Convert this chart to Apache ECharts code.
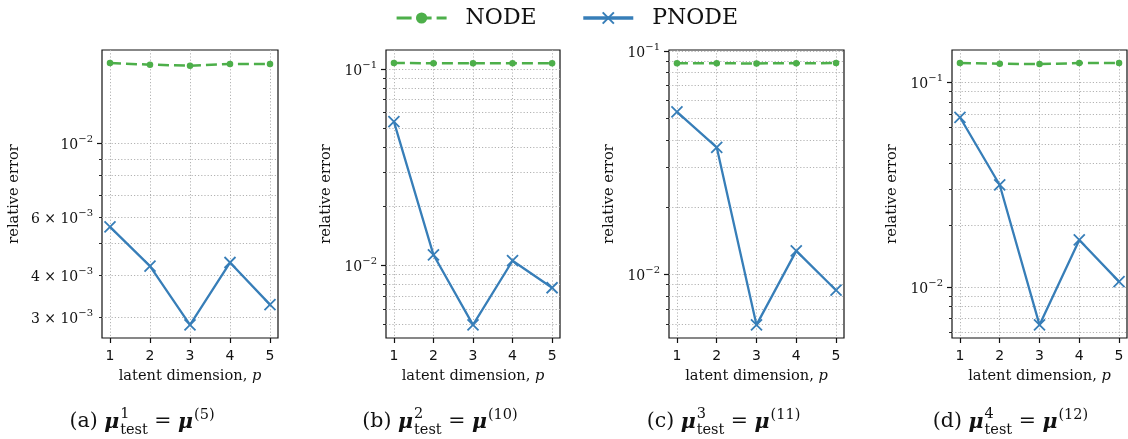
<!DOCTYPE html>
<html><head><meta charset="utf-8">
<script src="https://cdn.jsdelivr.net/npm/echarts@6/dist/echarts.min.js"></script>
<style>html,body{margin:0;padding:0;background:#fff;}#c{width:1128px;height:439px;}</style>
</head><body><div id="c"></div>
<script>
// ---------------- data ----------------
const latentDims = [1, 2, 3, 4, 5];
const nodeA  = [0.01749, 0.01730, 0.01718, 0.01738, 0.01738];
const pnodeA = [0.00561, 0.00427, 0.00284, 0.00438, 0.00327];
const nodeB  = [0.1073, 0.1072, 0.1072, 0.1072, 0.1072];
const pnodeB = [0.0540, 0.01133, 0.00498, 0.01057, 0.00770];
const nodeC  = [0.0881, 0.0880, 0.0879, 0.0881, 0.0882];
const pnodeC = [0.0533, 0.0370, 0.00593, 0.01272, 0.00848];
const nodeD  = [0.1242, 0.1233, 0.1229, 0.1242, 0.1242];
const pnodeD = [0.0675, 0.0315, 0.00652, 0.01697, 0.01061];
const seriesNames = ['NODE', 'PNODE'];
const xTickValues = [1, 2, 3, 4, 5];
const yMajorTicks = [[0.01], [0.1, 0.01], [0.1, 0.01], [0.1, 0.01]];
const yLabeledTicks = [[0.01, 0.006, 0.004, 0.003], [0.1, 0.01], [0.1, 0.01], [0.1, 0.01]];
const panelLetters = ['a', 'b', 'c', 'd'];
const testIndices = ['1', '2', '3', '4'];
const muIndices = ['5', '10', '11', '12'];
const xAxisTitle = 'latent dimension, ';
const xAxisTitleVar = 'p';
const yAxisTitle = 'relative error';

// ---------------- layout / style ----------------
const GREEN = '#4daf4a', BLUE = '#377eb8';
const SERIF = '"DejaVu Serif", serif';
const SANS = '"DejaVu Sans", sans-serif';
const gridLefts = [102, 386, 669, 952];
const gridWidths = [176, 174, 175, 175];
const gridTop = 50, gridHeight = 288;
const yNameGaps = [80, 52, 52, 52];
const captionCenters = [142, 440, 723.5, 1010.5];

const nodes = [nodeA, nodeB, nodeC, nodeD];
const pnodes = [pnodeA, pnodeB, pnodeC, pnodeD];

function logLimits(arrs) {
  const all = [].concat(...arrs);
  const lo = Math.log10(Math.min(...all)), hi = Math.log10(Math.max(...all));
  const m = 0.05 * (hi - lo);
  return [Math.pow(10, lo - m), Math.pow(10, hi + m)];
}
function minorTicks(lim) {
  const out = [];
  for (let e = Math.floor(Math.log10(lim[0])); e <= Math.ceil(Math.log10(lim[1])); e++) {
    for (let k = 2; k <= 9; k++) {
      const v = k * Math.pow(10, e);
      if (v >= lim[0] && v <= lim[1]) out.push(+v.toPrecision(6));
    }
  }
  return out;
}
function sciLabel(v) {
  const e = Math.floor(Math.log10(v) + 1e-9);
  const m = Math.round(v / Math.pow(10, e));
  const ex = (e < 0 ? '−' : '') + Math.abs(e);
  return (m === 1 ? '{b|10}' : '{b|' + m + ' × 10}') + '{s|' + ex + '}';
}

const grids = [], xAxes = [], yAxes = [], series = [];
const gridLine = {color: '#b3b3b3', width: 1, type: [1.2, 2]};
for (let i = 0; i < 4; i++) {
  grids.push({left: gridLefts[i], top: gridTop, width: gridWidths[i], height: gridHeight,
    show: true, borderColor: '#111', borderWidth: 1.2, backgroundColor: 'transparent'});
  xAxes.push({type: 'value', gridIndex: i, min: 0.8, max: 5.2,
    axisLine: {show: false},
    axisTick: {show: true, length: 5, inside: false, customValues: xTickValues, lineStyle: {color: '#111', width: 1.2}},
    axisLabel: {show: true, customValues: xTickValues, margin: 11, fontFamily: SANS, fontSize: 14, color: '#111'},
    splitLine: {show: true, lineStyle: gridLine},
    name: xAxisTitle + '{i|' + xAxisTitleVar + '}', nameLocation: 'middle', nameGap: 31,
    nameTextStyle: {fontFamily: SERIF, fontSize: 14.6, color: '#111',
      rich: {i: {fontFamily: SERIF, fontSize: 14.6, fontStyle: 'italic', color: '#111'}}}
  });
  const lim = logLimits([nodes[i], pnodes[i]]);
  const minors = minorTicks(lim);
  yAxes.push({type: 'log', logBase: 10, gridIndex: i, position: 'left', min: lim[0], max: lim[1],
    axisLine: {show: false},
    axisTick: {show: true, length: 5, customValues: yMajorTicks[i], lineStyle: {color: '#111', width: 1.2}},
    axisLabel: {show: true, customValues: yLabeledTicks[i], margin: 9, formatter: sciLabel,
      rich: {
        b: {fontFamily: SERIF, fontSize: 14, lineHeight: 18, verticalAlign: 'bottom', color: '#111'},
        s: {fontFamily: SERIF, fontSize: 10, lineHeight: 9, verticalAlign: 'top', color: '#111'}
      }},
    splitLine: {show: true, lineStyle: gridLine},
    name: yAxisTitle, nameLocation: 'middle', nameGap: yNameGaps[i],
    nameTextStyle: {fontFamily: SERIF, fontSize: 14.6, color: '#111'}
  });
  yAxes.push({type: 'log', logBase: 10, gridIndex: i, position: 'left', min: lim[0], max: lim[1],
    axisLine: {show: false},
    axisTick: {show: true, length: 3, customValues: minors, lineStyle: {color: '#111', width: 0.9}},
    axisLabel: {show: false},
    splitLine: {show: true, lineStyle: gridLine}
  });
  series.push({type: 'line', name: seriesNames[0], xAxisIndex: i, yAxisIndex: 2 * i,
    data: latentDims.map((x, j) => [x, nodes[i][j]]),
    lineStyle: {color: GREEN, width: 2.5, type: [11, 5]},
    symbol: 'circle', symbolSize: 6.5, itemStyle: {color: GREEN}, z: 3});
  series.push({type: 'line', name: seriesNames[1], xAxisIndex: i, yAxisIndex: 2 * i,
    data: latentDims.map((x, j) => [x, pnodes[i][j]]),
    lineStyle: {color: BLUE, width: 2.3},
    symbol: 'path://M0,0L10,10M10,0L0,10', symbolSize: 11,
    itemStyle: {color: BLUE, borderColor: BLUE, borderWidth: 1.8}, z: 4});
}

// ---------------- captions ----------------
const mctx = document.createElement('canvas').getContext('2d');
function tw(text, font) { mctx.font = font; return mctx.measureText(text).width; }
const CAP = 20.5, SCR = 14.5;
const fBase = CAP + 'px ' + SERIF;
const fMu = 'italic bold ' + CAP + 'px ' + SERIF;
const fScr = SCR + 'px ' + SERIF;
const baseY = 422, supY = 414, subY = 430.5;
const graphics = [];
for (let i = 0; i < 4; i++) {
  const parts = [
    {t: '(' + panelLetters[i] + ') ', f: fBase, y: baseY},
    {t: 'μ', f: fMu, y: baseY + 1},
    {stack: [{t: testIndices[i], f: fScr, y: supY}, {t: 'test', f: fScr, y: subY}]},
    {t: ' = ', f: fBase, y: baseY},
    {t: 'μ', f: fMu, y: baseY + 1},
    {t: '(' + muIndices[i] + ')', f: fScr, y: supY + 1, pad: 1}
  ];
  let total = 0;
  parts.forEach(p => {
    if (p.stack) p.w = Math.max(...p.stack.map(s => tw(s.t, s.f))) + 1;
    else p.w = tw(p.t, p.f) + (p.pad || 0);
    total += p.w;
  });
  let x = captionCenters[i] - total / 2;
  parts.forEach(p => {
    const items = p.stack ? p.stack : [p];
    items.forEach(s => {
      graphics.push({type: 'text', x: x + (p.pad || 0) + (p.stack ? 1 : 0), y: s.y,
        style: {text: s.t, font: s.f, fill: '#111', align: 'left', verticalAlign: 'middle'}});
    });
    x += p.w;
  });
}

const chart = echarts.init(document.getElementById('c'), null, {renderer: 'canvas'});
chart.setOption({
  animation: false,
  backgroundColor: '#fff',
  legend: {
    left: 390, top: 2, itemWidth: 50, itemHeight: 14, itemGap: 45,
    textStyle: {fontFamily: SERIF, fontSize: 22, color: '#111', padding: [0, 0, 0, 14]},
    data: [{name: 'NODE', lineStyle: {width: 3.2, type: [15, 5]}}, {name: 'PNODE', lineStyle: {width: 3.4}}]
  },
  grid: grids, xAxis: xAxes, yAxis: yAxes, series: series,
  graphic: graphics
});
</script></body></html>
